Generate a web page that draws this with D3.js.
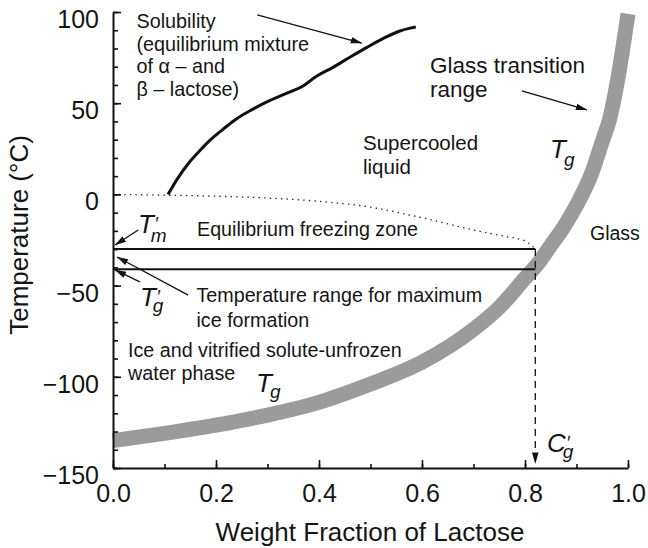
<!DOCTYPE html>
<html><head><meta charset="utf-8">
<script src="https://cdn.jsdelivr.net/npm/d3@7"></script>
<style>
body{margin:0;background:#fff}
svg{display:block;color:#111}
text{font-family:"Liberation Sans",Arial,Helvetica,sans-serif;fill:#151515}
</style>
</head><body>
<svg id="chart" width="648" height="548" viewBox="0 0 648 548"></svg>
<script>
// ---- data ----
const tgX  = [0, 0.1, 0.2, 0.3, 0.4, 0.5, 0.6, 0.7, 0.75, 0.8, 0.825, 0.85, 0.875, 0.9, 0.93, 0.95, 0.965, 0.98, 1.0];
const tgY  = [-135, -131, -126.5, -121, -114, -104, -92, -74, -62, -46, -38, -28, -18, -6, 12, 29, 42, 63, 99];
const solX = [0.107, 0.125, 0.146, 0.167, 0.188, 0.215, 0.24, 0.27, 0.305, 0.34, 0.37, 0.38, 0.39, 0.428, 0.46, 0.493, 0.525, 0.557, 0.575, 0.588];
const solY = [0, 8.5, 16.8, 23.5, 29.6, 36, 41.5, 46.5, 51.5, 55.8, 59.6, 61.6, 63.8, 69.8, 75.2, 80.6, 85.5, 89.6, 91, 91.8];
const dotX = [0, 0.1, 0.2, 0.3, 0.4, 0.5, 0.6, 0.7, 0.76, 0.8, 0.815, 0.82];
const dotY = [0, -0.4, -1, -2, -3.8, -7, -12.8, -19.5, -23, -25.5, -28.5, -30];
const tmPrime = -30;       // T'm
const tgPrime = -41;       // T'g
const cgPrime = 0.82;      // C'g
const yMajor = [100, 50, 0, -50, -100, -150];
const yMajorLabels = ["100", "50", "0", "\u221250", "\u2212100", "\u2212150"];
const yMinor = d3.range(-150, 101, 10);
const xMajor = [0, 0.2, 0.4, 0.6, 0.8, 1.0];
const xMajorLabels = ["0.0", "0.2", "0.4", "0.6", "0.8", "1.0"];
const xMinor = d3.range(0, 1.0001, 0.1);
const xTitle = "Weight Fraction of Lactose";
const yTitle = "Temperature (\u00B0C)";

// ---- layout ----
const svg = d3.select("#chart");
const x = d3.scaleLinear().domain([0, 1]).range([113, 628]);
const y = d3.scaleLinear().domain([-150, 100]).range([468, 12]);
const INK = "#111";

const defs = svg.append("defs");
defs.append("marker").attr("id", "ah")
  .attr("viewBox", "0 -4 12 8").attr("refX", 11).attr("refY", 0)
  .attr("markerUnits", "userSpaceOnUse").attr("markerWidth", 12).attr("markerHeight", 8)
  .attr("orient", "auto")
  .append("path").attr("d", "M0,-3.3L11.5,0L0,3.3Z").attr("fill", INK);

const mkPath = (xs, ys, curve) => d3.line().x(d => x(d[0])).y(d => y(d[1])).curve(curve)(xs.map((v, i) => [v, ys[i]]));

// Tg band
svg.append("path").attr("d", mkPath(tgX, tgY, d3.curveMonotoneX))
  .attr("fill", "none").attr("stroke", "#9b9b9b").attr("stroke-width", 15).attr("stroke-linecap", "butt");

// dotted freezing curve
svg.append("path").attr("d", mkPath(dotX, dotY, d3.curveMonotoneX))
  .attr("fill", "none").attr("stroke", "#222").attr("stroke-width", 1.3).attr("stroke-dasharray", "1.4,4.2");

// solubility curve
svg.append("path").attr("d", mkPath(solX, solY, d3.curveMonotoneX))
  .attr("fill", "none").attr("stroke", INK).attr("stroke-width", 3).attr("stroke-linejoin", "round");

// T'm and T'g horizontal lines
[tmPrime, tgPrime].forEach(v => {
  svg.append("line").attr("x1", x(0)).attr("x2", x(cgPrime)).attr("y1", y(v)).attr("y2", y(v))
    .attr("stroke", INK).attr("stroke-width", 2);
});
// dashed C'g drop line
svg.append("line").attr("x1", x(cgPrime)).attr("x2", x(cgPrime)).attr("y1", y(tmPrime)).attr("y2", y(-147.5))
  .attr("stroke", INK).attr("stroke-width", 1.3).attr("stroke-dasharray", "7,5").attr("marker-end", "url(#ah)");

// ---- axes (d3 axes, inward ticks) ----
function styleAxis(g) {
  g.attr("color", INK);
  g.selectAll(".domain").attr("stroke", INK).attr("stroke-width", 2).attr("fill", "none");
  g.selectAll(".tick line").attr("stroke", INK).attr("stroke-width", 1.6);
  g.selectAll("text").attr("font-size", 25).attr("font-family", "Liberation Sans, Arial, sans-serif").attr("fill", "#151515");
}
const gy = svg.append("g").attr("transform", `translate(${x(0)},0)`)
  .call(d3.axisLeft(y).tickValues(yMinor).tickSizeInner(-5).tickSizeOuter(0).tickFormat(() => ""));
const gy2 = svg.append("g").attr("transform", `translate(${x(0)},0)`)
  .call(d3.axisLeft(y).tickValues(yMajor).tickSizeInner(-8).tickSizeOuter(0).tickPadding(14)
    .tickFormat((d, i) => yMajorLabels[i]));
gy2.select(".domain").remove();
gy2.selectAll("text").attr("dy", "0.62em");
const gx = svg.append("g").attr("transform", `translate(0,${y(-150)})`)
  .call(d3.axisBottom(x).tickValues(xMinor).tickSizeInner(-4).tickSizeOuter(0).tickFormat(() => ""));
const gx2 = svg.append("g").attr("transform", `translate(0,${y(-150)})`)
  .call(d3.axisBottom(x).tickValues(xMajor).tickSizeInner(-8).tickSizeOuter(0).tickPadding(16)
    .tickFormat((d, i) => xMajorLabels[i]));
gx2.select(".domain").remove();
[gy, gy2, gx, gx2].forEach(styleAxis);

// axis titles
svg.append("text").attr("x", 370).attr("y", 541).attr("text-anchor", "middle").attr("font-size", 26).text(xTitle);
svg.append("text").attr("transform", "translate(28,235) rotate(-90)").attr("text-anchor", "middle").attr("font-size", 26).text(yTitle);

// annotation text helpers
function block(px, py, lines, size, lh) {
  const t = svg.append("text").attr("x", px).attr("y", py).attr("font-size", size);
  lines.forEach((s, i) => t.append("tspan").attr("x", px).attr("dy", i ? lh : 0).text(s));
}
block(136.5, 28, ["Solubility", "(equilibrium mixture", "of \u03B1 \u2013 and", "\u03B2 \u2013 lactose)"], 19.8, 22.7);
block(363, 150, ["Supercooled", "liquid"], 20.5, 24);
block(430, 73, ["Glass transition", "range"], 22.5, 24);
block(590, 240, ["Glass"], 19.5, 0);
block(197, 236, ["Equilibrium freezing zone"], 19.7, 0);
block(196.5, 302, ["Temperature range for maximum", "ice formation"], 19.7, 25);
block(128, 356.5, ["Ice and vitrified solute-unfrozen", "water phase"], 19.7, 23);

function sym(px, py, main, prime, sub, subDy) {
  const t = svg.append("text").attr("x", px).attr("y", py).attr("font-style", "italic").attr("font-size", 26);
  t.append("tspan").text(main);
  if (prime) {
    t.append("tspan").attr("font-size", 18).attr("dx", 0.5).attr("dy", -3).text("\u2032");
    t.append("tspan").attr("font-size", 19).attr("dx", -7).attr("dy", subDy + 3).text(sub);
  } else {
    t.append("tspan").attr("font-size", 19).attr("dx", -2).attr("dy", subDy).text(sub);
  }
}
sym(138, 233, "T", true, "m", 9);
sym(140, 306, "T", true, "g", 6);
sym(550, 158, "T", false, "g", 8);
sym(256, 391.5, "T", false, "g", 6);
sym(547, 452, "C", true, "g", 6);

const arrows = [
  [[0.280, 98.4], [0.483, 83.0]],
  [[0.794, 56.7], [0.920, 46.3]],
  [[0.049, -19.5], [0.004, -27.7]],
  [[0.052, -48], [0.004, -41.4]],
  [[0.146, -55.2], [0.008, -34.3]]
];
arrows.forEach(a => {
  svg.append("line").attr("x1", x(a[0][0])).attr("y1", y(a[0][1])).attr("x2", x(a[1][0])).attr("y2", y(a[1][1]))
    .attr("stroke", INK).attr("stroke-width", 1.3).attr("marker-end", "url(#ah)");
});
</script>
</body></html>
